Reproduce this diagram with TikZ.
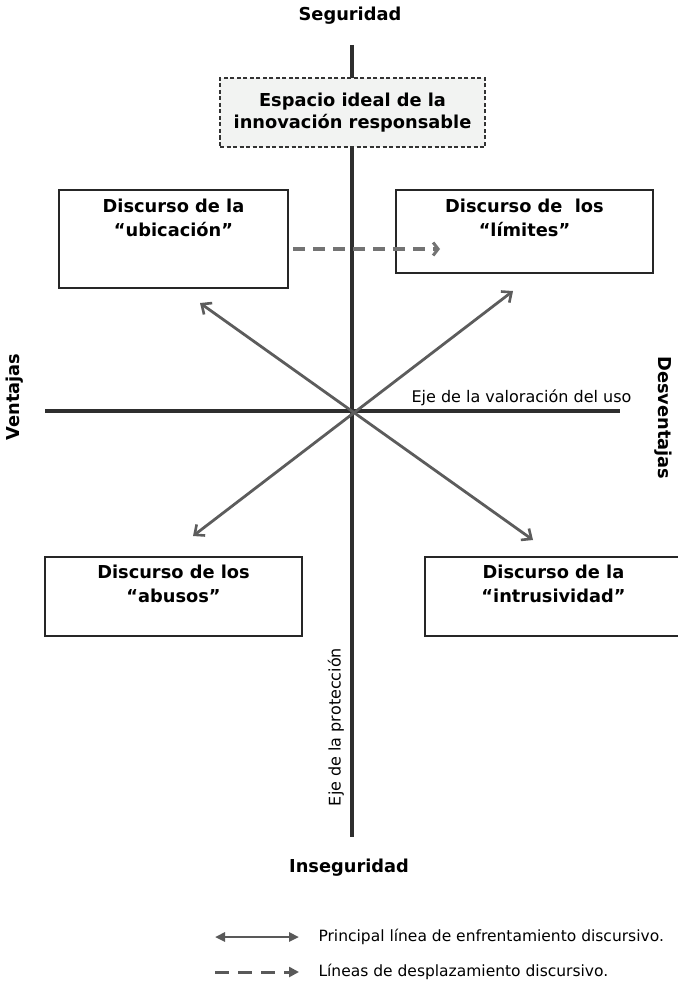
\documentclass[tikz,border=0pt]{standalone}
\usepackage{fontspec}
\setmainfont{DejaVu Sans}
\usetikzlibrary{arrows.meta,positioning}
\begin{document}
\begin{tikzpicture}[x=1pt,y=-1pt]
	    \tikzset{
	        axisline/.style={line width=3.1pt,draw=black!82},
	        mainarrow/.style={line width=2.8pt,draw=black!64,{Straight Barb[length=8pt,width=14pt,line width=2.6pt]}-{Straight Barb[length=8pt,width=14pt,line width=2.6pt]}},
	        shiftarrow/.style={line width=3.3pt,draw=black!55,dash pattern=on 12pt off 8pt,-{Straight Barb[length=5pt,width=13pt,line width=3pt]}},
	        discbox/.style={draw=black!85,line width=2pt,fill=white,minimum width=257pt,inner sep=0pt},
	        disctext/.style={font=\fontsize{17.8}{24}\selectfont\bfseries,align=center,anchor=north,inner sep=0pt},
	        poletext/.style={font=\fontsize{17.8}{20}\selectfont\bfseries},
	        axistext/.style={font=\fontsize{16}{18}\selectfont},
	        legendtext/.style={font=\fontsize{15.5}{17}\selectfont,anchor=west}
	    }
	    \useasboundingbox (0,0) rectangle (677,990);
	    \coordinate (C) at (352,411);
	    \coordinate (T) at (352,45);
	    \coordinate (B) at (352,837);
	    \coordinate (L) at (45,411);
	    \coordinate (R) at (620,411);
	    \coordinate (NW) at (200,303);
	    \coordinate (SE) at (533,540);
	    \coordinate (NE) at (513,291);
	    \coordinate (SW) at (193,536);
	    \draw [axisline] (T) -- (B);
	    \draw [axisline] (L) -- (R);
	    \draw [mainarrow] (NW) -- (SE);
	    \draw [mainarrow] (NE) -- (SW);
	    \node [draw=black!80,line width=1.7pt,dash pattern=on 4pt off 2.5pt,fill={rgb,255:red,242;green,243;blue,242},minimum width=265pt,minimum height=69pt,align=center,font=\fontsize{17.8}{22}\selectfont\bfseries] (ideal) at (352.5,112.5) {Espacio ideal de la\\innovación responsable};
	    \node [discbox,minimum width=229pt,minimum height=98pt] (ubic) at (173.5,239) {};
	    \node [discbox,minimum height=83pt] (lim) at (524.5,231.5) {};
	    \node [discbox,minimum height=79pt] (abu) at (173.5,596.5) {};
	    \node [discbox,minimum height=79pt] (intr) at (553.5,596.5) {};
	    \node [disctext,below=10pt of ubic.north] (ubictext) {Discurso de la\\“ubicación”};
	    \node [disctext,below=10pt of lim.north] (limtext) {Discurso de \ los\\“límites”};
	    \node [disctext,below=9pt of abu.north] (abutext) {Discurso de los\\“abusos”};
	    \node [disctext,below=9pt of intr.north] (intrtext) {Discurso de la\\“intrusividad”};
	    \coordinate (S0) at (293,249);
	    \coordinate (S1) at (440,249);
	    \draw [shiftarrow] (S0) -- (S1);
	    \node [poletext] (seg) at (350,16) {Seguridad};
	    \node [poletext] (inseg) at (349,868) {Inseguridad};
	    \node [poletext,rotate=90] (vent) at (15,397) {Ventajas};
	    \node [poletext,rotate=-90] (desv) at (663,418) {Desventajas};
	    \node [axistext,anchor=base west] (ejeuso) at (408,402) {Eje de la valoración del uso};
	    \node [axistext,rotate=90] (ejeprot) at (336,727) {Eje de la protección};
	    \coordinate (A0) at (215,937);
	    \coordinate (A1) at (299,937);
	    \coordinate (D0) at (215,972);
	    \coordinate (D1) at (299,972);
	    \draw [line width=2.6pt,draw=black!65,{Triangle[length=10pt,width=9pt]}-{Triangle[length=10pt,width=9pt]}] (A0) -- (A1);
	    \draw [line width=3pt,draw=black!65,dash pattern=on 14pt off 9pt,-{Triangle[length=10pt,width=10pt]}] (D0) -- (D1);
	    \node [legendtext] (leg1) at (315,937) {Principal línea de enfrentamiento discursivo.};
	    \node [legendtext] (leg2) at (315,972) {Líneas de desplazamiento discursivo.};
	\end{tikzpicture}
\end{document}
